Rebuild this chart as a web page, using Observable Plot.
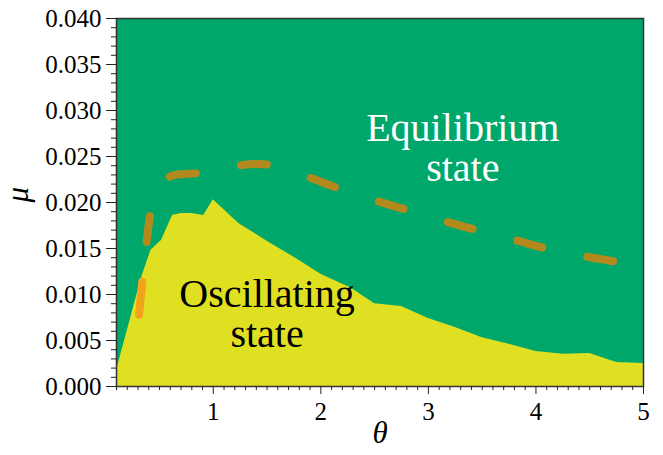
<!DOCTYPE html>
<html>
<head>
<meta charset="utf-8">
<script src="https://cdn.jsdelivr.net/npm/d3@7"></script>
<script src="https://cdn.jsdelivr.net/npm/@observablehq/plot@0.6"></script>
<style>
  html, body { margin: 0; padding: 0; background: #fff; }
  #chart svg { display: block; }
</style>
</head>
<body>
<div id="chart"></div>
<script>
// Boundary between oscillating (below) and equilibrium (above) states
const boundaryTheta = [0.1, 0.33, 0.42, 0.52, 0.62, 0.7, 0.8, 0.91, 1.0, 1.24, 1.5, 1.8, 2.0, 2.28, 2.5, 2.75, 3.0, 3.25, 3.5, 3.75, 4.0, 4.25, 4.5, 4.75, 5.0];
const boundaryMu    = [0.0017, 0.0117, 0.0148, 0.0159, 0.0186, 0.0188, 0.0188, 0.0186, 0.0203, 0.0177, 0.0158, 0.0137, 0.0122, 0.0107, 0.0090, 0.0087, 0.0074, 0.0064, 0.0053, 0.0046, 0.0038, 0.0035, 0.0036, 0.0026, 0.0025];

// Dashed curve (brown) and its first segment (orange)
const curveTheta = [0.38, 0.42, 0.47, 0.55, 0.61, 0.86, 1.21, 1.52, 1.87, 2.15, 2.51, 2.80, 3.17, 3.45, 3.81, 4.10, 4.48, 4.78];
const curveMu    = [0.0157, 0.0191, 0.0212, 0.0223, 0.0229, 0.0232, 0.0240, 0.0241, 0.0228, 0.0216, 0.0202, 0.0192, 0.0179, 0.0170, 0.0159, 0.0150, 0.0141, 0.0135];
const orangeTheta = [0.31, 0.34];
const orangeMu    = [0.0078, 0.0114];

// Ticks
const xTicks = [1, 2, 3, 4, 5];
const yTicks = [0, 0.005, 0.010, 0.015, 0.020, 0.025, 0.030, 0.035, 0.040];
const xMinor = d3.range(1, 51).map(i => i / 10).filter(v => !xTicks.includes(v));
const yMinor = d3.range(0, 41).map(i => i / 1000).filter(v => !yTicks.some(t => Math.abs(t - v) < 1e-9));

// Region labels (one entry per line)
const labelText  = ["Equilibrium", "state", "Oscillating", "state"];
const labelTheta = [3.32, 3.32, 1.5, 1.5];
const labelMu    = [0.0281, 0.0237, 0.0100, 0.0057];
const labelColor = ["#ffffff", "#ffffff", "#000000", "#000000"];

const boundary = boundaryTheta.map((t, i) => ({theta: t, mu: boundaryMu[i]}));
const curve = curveTheta.map((t, i) => ({theta: t, mu: curveMu[i]}));
const orange = orangeTheta.map((t, i) => ({theta: t, mu: orangeMu[i]}));
const labels = labelText.map((s, i) => ({text: s, theta: labelTheta[i], mu: labelMu[i], color: labelColor[i]}));

const GREEN = "#00a76a";
const YELLOW = "#dfe022";
const BROWN = "#b3891d";
const ORANGE = "#f2a21b";
const FONT = "Liberation Serif, Times New Roman, Tinos, DejaVu Serif, Noto Serif, serif";

const chart = Plot.plot({
  width: 663,
  height: 455,
  marginLeft: 116,
  marginRight: 20,
  marginTop: 18,
  marginBottom: 69,
  style: {background: "#fff", fontFamily: FONT},
  x: {domain: [0.1, 5]},
  y: {domain: [0, 0.04]},
  marks: [
    Plot.frame({fill: GREEN, stroke: null}),
    Plot.areaY(boundary, {x: "theta", y: "mu", fill: YELLOW}),
    Plot.line(curve, {x: "theta", y: "mu", stroke: BROWN, strokeWidth: 8, strokeLinecap: "round", strokeLinejoin: "round", strokeDasharray: "26,46", curve: "catmull-rom"}),
    Plot.line(orange, {x: "theta", y: "mu", stroke: ORANGE, strokeWidth: 8, strokeLinecap: "round"}),
    Plot.text(labels, {x: "theta", y: "mu", text: "text", fill: "color", fontSize: 40, lineAnchor: "middle"}),
    Plot.frame({stroke: "#333", strokeWidth: 1.5}),
    Plot.axisX({ticks: xTicks, tickSize: 8, tickPadding: 8, fontSize: 25, tickFormat: d => String(d), label: null, stroke: "#222"}),
    Plot.axisX({ticks: xMinor, tickSize: 4, tickFormat: () => "", label: null, stroke: "#222"}),
    Plot.axisY({ticks: yTicks, tickSize: 10, tickPadding: 5, fontSize: 25, tickFormat: d3.format(".3f"), label: null, stroke: "#222"}),
    Plot.axisY({ticks: yMinor, tickSize: 5, tickFormat: () => "", label: null, stroke: "#222"}),
    Plot.text(["θ"], {frameAnchor: "bottom", dy: 56, fontSize: 31, fontStyle: "italic", fill: "#000"}),
    Plot.text(["μ"], {frameAnchor: "left", dx: -98, rotate: -90, fontSize: 31, fontStyle: "italic", fill: "#000"})
  ]
});
chart.querySelectorAll("text, g").forEach(el => {
  el.setAttribute("font-family", FONT);
  el.style.setProperty("font-family", FONT, "important");
});
chart.style.setProperty("font-family", FONT, "important");
document.getElementById("chart").appendChild(chart);
</script>
</body>
</html>
